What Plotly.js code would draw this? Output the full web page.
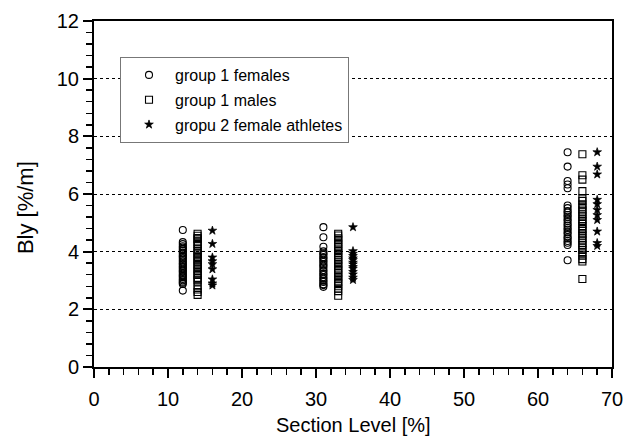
<!DOCTYPE html>
<html>
<head>
<meta charset="utf-8">
<script src="https://cdn.plot.ly/plotly-3.0.1.min.js"></script>
<style>html,body{margin:0;padding:0;background:#fff;}#chart{width:626px;height:442px;}</style>
</head>
<body>
<div id="chart"></div>
<script>
// Series: x positions (section level, %) and Bly values (%/m)
var seriesNames = ["group 1 females", "group 1 males", "gropu 2 female athletes"];

var femalesX = [12, 31, 64];
var femalesY = [
  [4.75, 4.33, 4.26, 4.19, 4.14, 4.08, 4.03, 3.97, 3.93, 3.86, 3.82, 3.77, 3.71, 3.66, 3.6, 3.56, 3.5, 3.46, 3.41, 3.35, 3.31, 3.26, 3.2, 3.16, 3.11, 3.05, 3.01, 2.96, 2.92, 2.88, 2.65],
  [4.85, 4.5, 4.17, 4.01, 3.94, 3.89, 3.81, 3.77, 3.69, 3.64, 3.56, 3.51, 3.45, 3.36, 3.31, 3.23, 3.19, 3.11, 3.06, 2.99, 2.95, 2.87, 2.84, 2.78],
  [7.45, 6.95, 6.45, 6.33, 6.2, 5.6, 5.51, 5.41, 5.36, 5.27, 5.21, 5.12, 5.06, 4.97, 4.91, 4.82, 4.76, 4.67, 4.61, 4.51, 4.46, 4.37, 4.31, 4.23, 3.7]
];

var malesX = [14, 33, 66];
var malesY = [
  [4.62, 4.55, 4.47, 4.43, 4.35, 4.27, 4.21, 4.1, 4.03, 3.96, 3.91, 3.82, 3.76, 3.69, 3.63, 3.54, 3.48, 3.39, 3.34, 3.24, 3.19, 3.09, 3.03, 2.96, 2.8, 2.69, 2.6, 2.5],
  [4.62, 4.56, 4.46, 4.41, 4.31, 4.26, 4.16, 4.11, 4.02, 3.96, 3.87, 3.81, 3.71, 3.66, 3.56, 3.51, 3.41, 3.36, 3.26, 3.21, 3.11, 3.06, 2.96, 2.91, 2.8, 2.72, 2.63, 2.47],
  [7.38, 6.65, 6.5, 6.1, 5.85, 5.76, 5.64, 5.56, 5.46, 5.39, 5.29, 5.23, 5.12, 5.06, 4.96, 4.89, 4.79, 4.73, 4.62, 4.56, 4.46, 4.39, 4.29, 4.23, 4.12, 4.06, 3.94, 3.86, 3.74, 3.66, 3.05]
];

var athletesX = [16, 35, 68];
var athletesY = [
  [4.73, 4.27, 3.8, 3.67, 3.57, 3.39, 3.04, 2.9, 2.83],
  [4.85, 4.02, 3.93, 3.85, 3.77, 3.71, 3.62, 3.56, 3.47, 3.41, 3.3, 3.21, 3.1, 3.02],
  [7.45, 6.95, 6.68, 5.8, 5.65, 5.45, 5.27, 5.1, 4.7, 4.3, 4.2]
];

var xTickVals = [0, 10, 20, 30, 40, 50, 60, 70];
var yTickVals = [0, 2, 4, 6, 8, 10, 12];
var xTitle = "Section Level [%]";
var yTitle = "Bly [%/m]";

function flatten(xs, ys) {
  var X = [], Y = [];
  for (var i = 0; i < xs.length; i++) {
    for (var j = 0; j < ys[i].length; j++) { X.push(xs[i]); Y.push(ys[i][j]); }
  }
  return {x: X, y: Y};
}

var f = flatten(femalesX, femalesY);
var m = flatten(malesX, malesY);
var a = flatten(athletesX, athletesY);

var traces = [
  {x: f.x, y: f.y, name: seriesNames[0], legendgroup: "g1", type: "scatter", mode: "markers",
   marker: {symbol: "circle-open", size: 7, color: "#000", line: {width: 1.1, color: "#000"}}},
  {x: m.x, y: m.y, name: seriesNames[1], legendgroup: "g2", type: "scatter", mode: "markers",
   marker: {symbol: "square-open", size: 7, color: "#000", line: {width: 1.1, color: "#000"}}},
  {x: a.x, y: a.y, name: seriesNames[2], legendgroup: "g3", type: "scatter", mode: "markers",
   marker: {symbol: "star", size: 6.5, color: "#000", line: {width: 0.7, color: "#000"}}}
];

var font = "Liberation Sans, Arial, Helvetica, sans-serif";

var layout = {
  width: 626, height: 442,
  margin: {l: 94, r: 14, t: 21, b: 75},
  paper_bgcolor: "#fff", plot_bgcolor: "#fff",
  font: {family: font, color: "#000", size: 17},
  showlegend: true,
  legend: {
    x: 0.0502, y: 0.896, xanchor: "left", yanchor: "top",
    bgcolor: "#fff", bordercolor: "#777", borderwidth: 1,
    font: {family: font, size: 16, color: "#000"},
    tracegroupgap: 1, indentation: 2, itemwidth: 42
  },
  xaxis: {
    range: [0, 70], tickvals: xTickVals, ticktext: xTickVals.map(String),
    showgrid: false, zeroline: false,
    showline: true, linecolor: "#000", linewidth: 2, mirror: true,
    ticks: "outside", ticklen: 9, tickwidth: 2, tickcolor: "#000",
    minor: {dtick: 2, ticks: "outside", ticklen: 6, tickwidth: 1.5, tickcolor: "#000", showgrid: false},
    tickfont: {family: font, size: 20}, ticklabelstandoff: 4
  },
  yaxis: {
    range: [0, 12], tickvals: yTickVals, ticktext: yTickVals.map(String),
    showgrid: true, gridcolor: "#000", gridwidth: 1, griddash: "dot",
    zeroline: false,
    showline: true, linecolor: "#000", linewidth: 2, mirror: true,
    ticks: "outside", ticklen: 9, tickwidth: 2, tickcolor: "#000",
    minor: {dtick: 0.4, ticks: "outside", ticklen: 6, tickwidth: 1.5, tickcolor: "#000", showgrid: false},
    tickfont: {family: font, size: 20}
  },
  annotations: [
    {text: xTitle, xref: "paper", yref: "paper", x: 0.5, y: -0.1676,
     xanchor: "center", yanchor: "middle", showarrow: false,
     font: {family: font, size: 20, color: "#000"}},
    {text: yTitle, xref: "paper", yref: "paper", x: -0.133, y: 0.4595,
     xanchor: "center", yanchor: "middle", textangle: -90, showarrow: false,
     font: {family: font, size: 22, color: "#000"}}
  ]
};

Plotly.newPlot("chart", traces, layout, {displayModeBar: false, staticPlot: true});
</script>
</body>
</html>
